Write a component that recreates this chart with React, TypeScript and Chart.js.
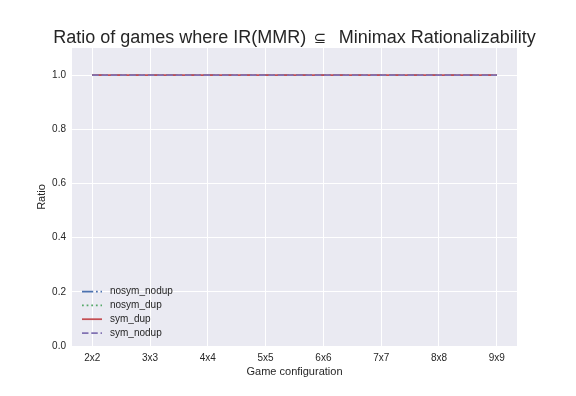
import React, { useEffect, useRef } from "react";
import { Chart, registerables } from "chart.js";

Chart.register(...registerables);

const categories = ["2x2", "3x3", "4x4", "5x5", "6x6", "7x7", "8x8", "9x9"];
const nosymNodup = [1.0, 1.0, 1.0, 1.0, 1.0, 1.0, 1.0, 1.0];
const nosymDup = [1.0, 1.0, 1.0, 1.0, 1.0, 1.0, 1.0, 1.0];
const symDup = [1.0, 1.0, 1.0, 1.0, 1.0, 1.0, 1.0, 1.0];
const symNodup = [1.0, 1.0, 1.0, 1.0, 1.0, 1.0, 1.0, 1.0];
const yTicks = [0.0, 0.2, 0.4, 0.6, 0.8, 1.0];

const TITLE_PARTS = ["Ratio of games where IR(MMR) ", "\u2286", "  Minimax Rationalizability"];
const FONT = "'Liberation Sans', Arial, 'DejaVu Sans', sans-serif";
const TEXT = "#262626";

const toPts = (arr: number[]) => arr.map((v, i) => ({ x: i, y: v }));

const bgPlugin = {
  id: "bgPlugin",
  beforeDraw(chart: any) {
    const { ctx, chartArea } = chart;
    ctx.save();
    ctx.fillStyle = "#EAEAF2";
    ctx.fillRect(chartArea.left, chartArea.top, chartArea.right - chartArea.left, chartArea.bottom - chartArea.top);
    ctx.restore();
  },
  afterDraw(chart: any) {
    const { ctx, chartArea } = chart;
    // title (three parts, the symbol slightly smaller)
    ctx.save();
    ctx.fillStyle = TEXT;
    ctx.textAlign = "left";
    ctx.textBaseline = "alphabetic";
    const fonts = [`18px ${FONT}`, `15px 'DejaVu Sans', sans-serif`, `18px ${FONT}`];
    const gaps = [2.5, 2.5, 0];
    const widths = TITLE_PARTS.map((t, i) => { ctx.font = fonts[i]; return ctx.measureText(t).width + gaps[i]; });
    const total = widths.reduce((a, b) => a + b, 0);
    let x = (chartArea.left + chartArea.right) / 2 - total / 2;
    TITLE_PARTS.forEach((t, i) => {
      ctx.font = fonts[i];
      ctx.fillText(t, x, 43);
      x += widths[i];
    });
    ctx.restore();
    // legend
    ctx.save();
    const ds = chart.data.datasets;
    const rowH = 13.8;
    const baseY = chartArea.bottom - 13 - (ds.length - 1) * rowH;
    const x0 = chartArea.left + 10;
    ds.forEach((d: any, i: number) => {
      const y = baseY + i * rowH;
      ctx.strokeStyle = d.borderColor;
      ctx.lineWidth = d.borderWidth;
      ctx.setLineDash(d.borderDash || []);
      ctx.beginPath();
      ctx.moveTo(x0, y);
      ctx.lineTo(x0 + 20, y);
      ctx.stroke();
      ctx.setLineDash([]);
      ctx.fillStyle = TEXT;
      ctx.font = `10px ${FONT}`;
      ctx.textAlign = "left";
      ctx.textBaseline = "middle";
      ctx.fillText(d.label, x0 + 28, y);
    });
    ctx.restore();
  },
};

export default function App() {
  const ref = useRef<HTMLCanvasElement | null>(null);
  useEffect(() => {
    document.body.style.margin = "0";
    const lw = 1.75;
    const chart = new Chart(ref.current as HTMLCanvasElement, {
      type: "line",
      data: {
        datasets: [
          { label: "nosym_nodup", order: 3, data: toPts(nosymNodup), borderColor: "#4C72B0", borderWidth: lw, borderDash: [6.4 * lw, 1.6 * lw, 1 * lw, 1.6 * lw], pointRadius: 0, fill: false },
          { label: "nosym_dup", order: 2, data: toPts(nosymDup), borderColor: "#55A868", borderWidth: lw, borderDash: [1 * lw, 1.65 * lw], pointRadius: 0, fill: false },
          { label: "sym_dup", order: 1, data: toPts(symDup), borderColor: "#C44E52", borderWidth: lw, pointRadius: 0, fill: false },
          { label: "sym_nodup", order: 0, data: toPts(symNodup), borderColor: "#8172B2", borderWidth: lw, borderDash: [3.7 * lw, 1.6 * lw], pointRadius: 0, fill: false },
        ],
      },
      options: {
        animation: false,
        responsive: false,
        layout: { padding: { top: 48, right: 59, left: 0, bottom: 0 } },
        plugins: { legend: { display: false }, title: { display: false }, tooltip: { enabled: false } },
        scales: {
          x: {
            type: "linear",
            min: -0.35,
            max: categories.length - 1 + 0.35,
            afterBuildTicks: (s: any) => { s.ticks = categories.map((_, i) => ({ value: i })); },
            afterFit: (s: any) => { s.height = 50; },
            ticks: { callback: (v: any) => categories[v as number] ?? "", color: TEXT, font: { family: FONT, size: 10 }, padding: 6, maxRotation: 0, autoSkip: false },
            grid: { color: "#FFFFFF", lineWidth: 1, drawTicks: false },
            border: { display: false },
            title: { display: true, text: "Game configuration", color: TEXT, font: { family: FONT, size: 11 }, padding: { top: 17.4, bottom: 17.4 } },
          },
          y: {
            type: "linear",
            min: 0,
            max: 1.1,
            afterBuildTicks: (s: any) => { s.ticks = yTicks.map((v) => ({ value: v })); },
            afterFit: (s: any) => { s.width = 72; },
            ticks: { callback: (v: any) => Number(v).toFixed(1), color: TEXT, font: { family: FONT, size: 10 }, padding: 6 },
            grid: { color: "#FFFFFF", lineWidth: 1, drawTicks: false },
            border: { display: false },
            title: { display: true, text: "Ratio", color: TEXT, font: { family: FONT, size: 11 }, padding: { top: 35, bottom: 35 } },
          },
        },
      },
      plugins: [bgPlugin],
    });
    return () => chart.destroy();
  }, []);
  return <canvas ref={ref} width={576} height={396} style={{ display: "block" }} />;
}
